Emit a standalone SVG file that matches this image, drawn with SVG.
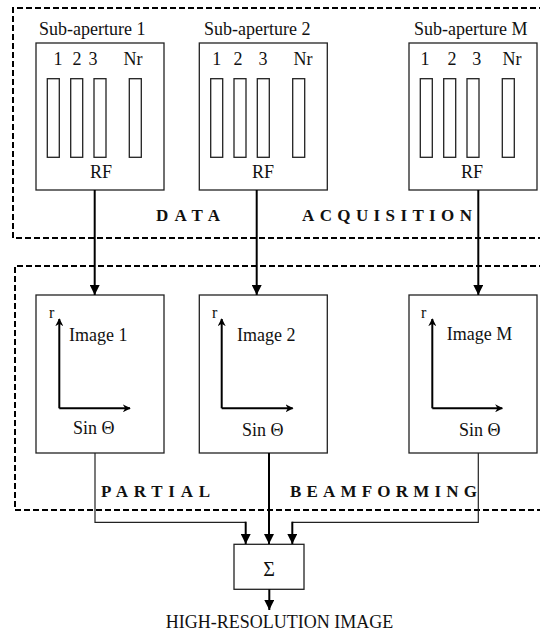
<svg xmlns="http://www.w3.org/2000/svg" width="540" height="634" viewBox="0 0 540 634">
  <defs>
    <marker id="head" viewBox="0 0 10 10" refX="10" refY="5" markerWidth="10" markerHeight="10" markerUnits="userSpaceOnUse" orient="auto">
      <path d="M0,0 L10,5 L0,10 Z" fill="#000"/>
    </marker>
    <marker id="axhead" viewBox="0 0 10 10" refX="9" refY="5" markerWidth="8" markerHeight="8" markerUnits="userSpaceOnUse" orient="auto">
      <path d="M0,0 L10,5 L0,10 L3,5 Z" fill="#000"/>
    </marker>
    <style>
      .t { font-family: "Liberation Serif", "Times New Roman", serif; font-size: 18px; fill: #111; }
      .n { font-family: "Liberation Serif", "Times New Roman", serif; font-size: 18px; fill: #111; text-anchor: middle; }
      .sp { font-family: "Liberation Serif", "Times New Roman", serif; font-size: 17px; font-weight: bold; fill: #111; }
      .box { fill: #fff; stroke: #222; stroke-width: 1.3; }
      .bar { fill: #fff; stroke: #222; stroke-width: 1.3; }
      .dash { fill: none; stroke: #000; stroke-width: 2; stroke-dasharray: 6 3; }
      .thick { fill: none; stroke: #000; stroke-width: 2; }
      .thin { fill: none; stroke: #222; stroke-width: 1.2; }
      .axis { fill: none; stroke: #000; stroke-width: 2; }
    </style>
  </defs>
  <rect width="540" height="634" fill="#fff"/>

  <!-- stage frames -->
  <g id="acquisition-frame">
    <path class="dash" d="M545,8 H13 V238 H545"/>
    <text class="sp" x="156" y="221" textLength="64" lengthAdjust="spacing">DATA</text>
    <text class="sp" x="302" y="221" textLength="170" lengthAdjust="spacing">ACQUISITION</text>
  </g>
  <g id="beamforming-frame">
    <path class="dash" d="M545,266 H15 V510 H545"/>
    <text class="sp" x="101" y="497" textLength="109" lengthAdjust="spacing">PARTIAL</text>
    <text class="sp" x="290" y="497" textLength="187" lengthAdjust="spacing">BEAMFORMING</text>
  </g>

  <!-- sub-aperture RF blocks -->
  <g id="sub1">
    <text class="t" x="39" y="35">Sub-aperture 1</text>
    <rect class="box" x="36" y="43" width="128" height="147"/>
    <text class="n" x="58" y="65">1</text><text class="n" x="77" y="65">2</text><text class="n" x="93" y="65">3</text><text class="n" x="133" y="65">Nr</text>
    <rect class="bar" x="47.3" y="78.7" width="12" height="78.6"/>
    <rect class="bar" x="70.7" y="78.7" width="12" height="78.6"/>
    <rect class="bar" x="94" y="78.7" width="12" height="78.6"/>
    <rect class="bar" x="129.3" y="78.7" width="12" height="78.6"/>
    <text class="n" x="101" y="178">RF</text>
  </g>
  <g id="sub2">
    <text class="t" x="204" y="35">Sub-aperture 2</text>
    <rect class="box" x="199.3" y="43" width="128" height="147"/>
    <text class="n" x="216.7" y="65">1</text><text class="n" x="238" y="65">2</text><text class="n" x="263" y="65">3</text><text class="n" x="303" y="65">Nr</text>
    <rect class="bar" x="210.7" y="78.7" width="12" height="78.6"/>
    <rect class="bar" x="234" y="78.7" width="12" height="78.6"/>
    <rect class="bar" x="257.3" y="78.7" width="12" height="78.6"/>
    <rect class="bar" x="292.7" y="78.7" width="12" height="78.6"/>
    <text class="n" x="263" y="178">RF</text>
  </g>
  <g id="subM">
    <text class="t" x="414" y="35">Sub-aperture M</text>
    <rect class="box" x="409" y="43" width="128" height="147"/>
    <text class="n" x="425" y="65">1</text><text class="n" x="452" y="65">2</text><text class="n" x="476.7" y="65">3</text><text class="n" x="512" y="65">Nr</text>
    <rect class="bar" x="420.3" y="78.7" width="12" height="78.6"/>
    <rect class="bar" x="443.7" y="78.7" width="12" height="78.6"/>
    <rect class="bar" x="467" y="78.7" width="12" height="78.6"/>
    <rect class="bar" x="502.3" y="78.7" width="12" height="78.6"/>
    <text class="n" x="472" y="178">RF</text>
  </g>

  <!-- partial images -->
  <g id="img1">
    <rect class="box" x="36" y="295" width="128" height="158"/>
    <path class="axis" d="M59.3,408.3 V319" marker-end="url(#axhead)"/>
    <path class="axis" d="M59.3,408.3 H130" marker-end="url(#axhead)"/>
    <text class="t" x="49" y="318" style="font-size:16px">r</text>
    <text class="t" x="69" y="341">Image 1</text>
    <text class="t" x="73" y="434">Sin Θ</text>
  </g>
  <g id="img2">
    <rect class="box" x="199.3" y="295" width="128" height="158"/>
    <path class="axis" d="M221.7,408.3 V319" marker-end="url(#axhead)"/>
    <path class="axis" d="M221.7,408.3 H292.7" marker-end="url(#axhead)"/>
    <text class="t" x="212" y="318" style="font-size:16px">r</text>
    <text class="t" x="237" y="341">Image 2</text>
    <text class="t" x="242" y="436">Sin Θ</text>
  </g>
  <g id="imgM">
    <rect class="box" x="409" y="295" width="128" height="158"/>
    <path class="axis" d="M432.3,408.3 V319" marker-end="url(#axhead)"/>
    <path class="axis" d="M432.3,408.3 H502.3" marker-end="url(#axhead)"/>
    <text class="t" x="421" y="318" style="font-size:16px">r</text>
    <text class="t" x="446.7" y="340">Image M</text>
    <text class="t" x="459" y="436">Sin Θ</text>
  </g>

  <!-- summation -->
  <g id="sum">
    <rect class="box" x="234" y="544.3" width="70" height="45"/>
    <text class="n" x="269" y="576" style="font-size:20px">Σ</text>
  </g>
  <g id="output">
    <text class="n" x="279.5" y="628">HIGH-RESOLUTION IMAGE</text>
  </g>

  <!-- connectors -->
  <g id="connectors">
    <path class="thick" d="M94.7,190 V295" marker-end="url(#head)"/>
    <path class="thick" d="M256.7,190 V295" marker-end="url(#head)"/>
    <path class="thick" d="M478.3,190 V295" marker-end="url(#head)"/>
    <path class="thin" d="M95,453 V522.3 H245.7"/>
    <path class="thick" d="M245.7,521.7 V544" marker-end="url(#head)"/>
    <path class="thick" d="M269,453 V544" marker-end="url(#head)"/>
    <path class="thin" d="M478.3,453 V522.3 H292.3"/>
    <path class="thick" d="M292.3,521.7 V544" marker-end="url(#head)"/>
    <path class="thick" d="M269.3,589.3 V610" marker-end="url(#head)"/>
  </g>
</svg>
